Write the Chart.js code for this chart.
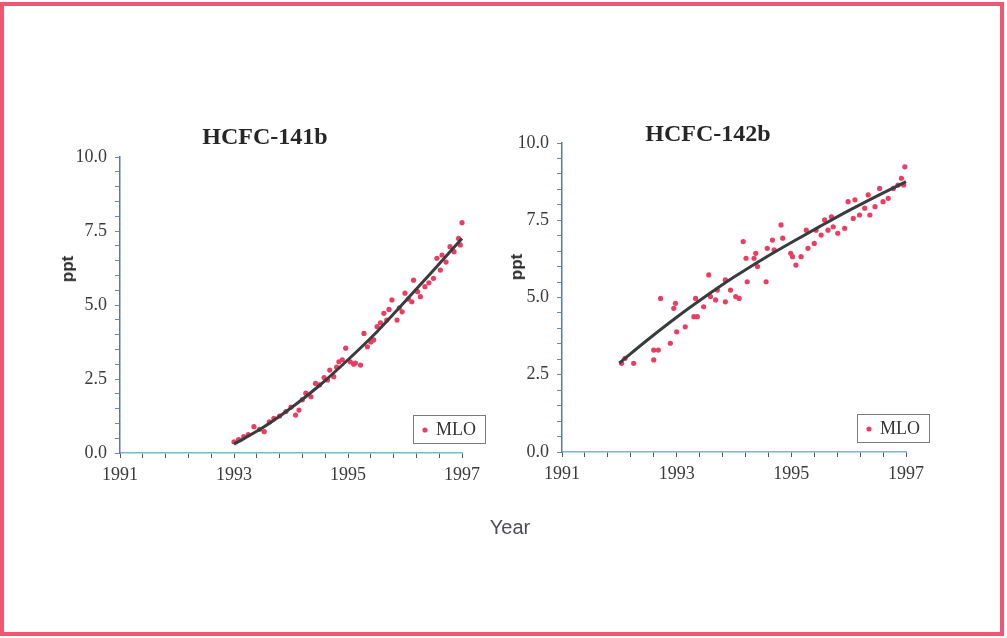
<!DOCTYPE html>
<html>
<head>
<meta charset="utf-8">
<script src="https://cdn.jsdelivr.net/npm/chart.js@4.4.1/dist/chart.umd.min.js"></script>
<style>
  body { margin: 0; background: #fff; }
  #page { position: relative; width: 1007px; height: 638px; overflow: hidden; background: #fff; }
  #frame { position: absolute; left: 0; top: 2px; width: 996px; height: 626px; border: 4px solid #ee5674; }
  canvas { position: absolute; top: 0; }
  #c141 { left: 0; }
  #c142 { left: 503px; }
  .ylab { position: absolute; font: bold 17px "Liberation Sans", Arial, sans-serif; color: #2a2a2a;
          transform: translate(-50%, -50%) rotate(-90deg); }
  #xlab { position: absolute; left: 510px; top: 527px; transform: translate(-50%, -50%);
          font: 20px "Liberation Sans", Arial, sans-serif; color: #4d4d55; }
</style>
</head>
<body>
<div id="page">
  <div id="frame"></div>
  <canvas id="c141" width="503" height="638"></canvas>
  <canvas id="c142" width="504" height="638"></canvas>
  <div class="ylab" style="left:68px;top:269px">ppt</div>
  <div class="ylab" style="left:517px;top:267px">ppt</div>
  <div id="xlab">Year</div>
</div>
<script>
// HCFC-141b, MLO flask samples
const mlo141Years = [1993.00, 1993.08, 1993.17, 1993.25, 1993.35, 1993.45, 1993.53, 1993.62, 1993.70, 1993.80,
  1993.91, 1994.00, 1994.08, 1994.14, 1994.20, 1994.26, 1994.35, 1994.43, 1994.50, 1994.58,
  1994.64, 1994.68, 1994.75, 1994.80, 1994.84, 1994.90, 1994.96, 1995.04, 1995.10, 1995.13,
  1995.22, 1995.28, 1995.34, 1995.40, 1995.45, 1995.51, 1995.57, 1995.63, 1995.68, 1995.72,
  1995.77, 1995.86, 1995.90, 1995.95, 1996.00, 1996.06, 1996.12, 1996.15, 1996.22, 1996.27,
  1996.35, 1996.42, 1996.50, 1996.56, 1996.62, 1996.65, 1996.72, 1996.79, 1996.86, 1996.94,
  1996.97, 1997.00];
const mlo141Ppt = [0.38, 0.45, 0.55, 0.62, 0.89, 0.80, 0.72, 1.05, 1.17, 1.25,
  1.40, 1.55, 1.28, 1.45, 1.80, 2.02, 1.90, 2.35, 2.30, 2.55,
  2.47, 2.80, 2.58, 2.90, 3.08, 3.15, 3.54, 3.08, 3.00, 3.04,
  2.97, 4.04, 3.59, 3.75, 3.82, 4.27, 4.40, 4.72, 4.49, 4.85,
  5.17, 4.49, 4.90, 4.77, 5.40, 5.20, 5.11, 5.84, 5.45, 5.28,
  5.62, 5.75, 5.90, 6.58, 6.18, 6.69, 6.45, 6.97, 6.80, 7.25,
  7.03, 7.78];
// fitted curve
const fit141Years = [1993.0, 1993.5, 1994.0, 1994.5, 1995.0, 1995.5, 1996.0, 1996.5, 1997.0];
const fit141Ppt = [0.30, 0.85, 1.52, 2.28, 3.15, 4.08, 5.12, 6.17, 7.25];

// HCFC-142b, MLO flask samples
const mlo142Years = [1992.04, 1992.10, 1992.25, 1992.60, 1992.60, 1992.68, 1992.72, 1992.89, 1992.95, 1992.98,
  1993.00, 1993.15, 1993.30, 1993.33, 1993.36, 1993.47, 1993.56, 1993.59, 1993.68, 1993.71,
  1993.85, 1993.85, 1993.94, 1994.03, 1994.09, 1994.16, 1994.21, 1994.23, 1994.35, 1994.38,
  1994.41, 1994.56, 1994.58, 1994.67, 1994.70, 1994.82, 1994.85, 1994.99, 1995.02, 1995.08,
  1995.17, 1995.26, 1995.29, 1995.40, 1995.43, 1995.52, 1995.58, 1995.64, 1995.70, 1995.73,
  1995.81, 1995.93, 1995.99, 1996.08, 1996.11, 1996.19, 1996.28, 1996.34, 1996.37, 1996.46,
  1996.54, 1996.60, 1996.69, 1996.78, 1996.86, 1996.92, 1996.96, 1996.98];
const mlo142Ppt = [2.87, 3.03, 2.87, 2.98, 3.30, 3.30, 4.97, 3.52, 4.65, 4.81,
  3.89, 4.05, 4.38, 4.97, 4.38, 4.70, 5.73, 5.03, 4.92, 5.24,
  5.57, 4.86, 5.24, 5.03, 4.97, 6.81, 6.27, 5.51, 6.27, 6.43,
  6.00, 5.51, 6.59, 6.86, 6.54, 7.35, 6.92, 6.43, 6.32, 6.05,
  6.32, 7.18, 6.59, 6.75, 7.18, 7.02, 7.51, 7.18, 7.61, 7.29,
  7.08, 7.24, 8.10, 7.56, 8.16, 7.67, 7.89, 8.32, 7.67, 7.94,
  8.53, 8.10, 8.21, 8.53, 8.64, 8.86, 8.64, 9.23];
const fit142Years = [1992.0, 1992.5, 1993.0, 1993.5, 1994.0, 1994.5, 1995.0, 1995.5, 1996.0, 1996.5, 1997.0];
const fit142Ppt = [2.88, 3.64, 4.36, 5.03, 5.66, 6.24, 6.78, 7.30, 7.81, 8.29, 8.75];

const yearTicks = ['1991', '1993', '1995', '1997'];
const pptTicks = ['0.0', '2.5', '5.0', '7.5', '10.0'];

const toPoints = (xs, ys) => xs.map((x, i) => ({ x: x, y: ys[i] }));

// titles and the little boxed legend are drawn by hand
const decor = {
  id: 'decor',
  afterDraw(chart, args, opts) {
    const ctx = chart.ctx;
    const a = chart.chartArea;
    ctx.save();
    ctx.fillStyle = '#262626';
    ctx.font = 'bold 24px "Liberation Serif"';
    ctx.textAlign = 'center';
    ctx.textBaseline = 'middle';
    ctx.fillText(opts.title, opts.titleX, opts.titleY);

    const bx = a.right - 49, by = a.bottom - 38;
    ctx.strokeStyle = '#7a7a7a';
    ctx.lineWidth = 1;
    ctx.strokeRect(bx + 0.5, by + 0.5, 72, 28);
    ctx.fillStyle = '#ea3d63';
    ctx.beginPath();
    ctx.arc(bx + 12, by + 15, 2.6, 0, Math.PI * 2);
    ctx.fill();
    ctx.fillStyle = '#333';
    ctx.font = '18px "Liberation Serif"';
    ctx.textAlign = 'left';
    ctx.fillText(chart.data.datasets[1].label, bx + 23, by + 15);
    ctx.restore();
  }
};

function makeChart(id, mlo, fit, opt) {
  const ctx = document.getElementById(id).getContext('2d');
  return new Chart(ctx, {
    type: 'scatter',
    data: {
      datasets: [{
        label: 'fit',
        data: fit,
        showLine: true,
        borderColor: '#373c3c',
        borderWidth: 3,
        pointRadius: 0,
        cubicInterpolationMode: 'monotone',
        clip: false,
        order: 0
      }, {
        label: 'MLO',
        data: mlo,
        backgroundColor: '#ea3d63',
        borderWidth: 0,
        pointRadius: 2.6,
        clip: false,
        order: 1
      }]
    },
    options: {
      responsive: false,
      animation: false,
      layout: { padding: opt.padding },
      plugins: {
        legend: { display: false },
        tooltip: { enabled: false },
        decor: { title: opt.title, titleX: opt.titleX, titleY: opt.titleY }
      },
      scales: {
        x: {
          type: 'linear',
          min: 1991,
          max: 1997,
          afterFit: s => { s.height = 40; },
          ticks: {
            stepSize: 0.4,
            autoSkip: false,
            maxRotation: 0,
            padding: 6,
            color: '#3a3a3a',
            font: { family: '"Liberation Serif"', size: 18 },
            callback: v => {
              const lbl = String(Math.round(v));
              return Math.abs(v - Math.round(v)) < 0.01 && yearTicks.includes(lbl) ? lbl : '';
            }
          },
          grid: { drawOnChartArea: false, tickLength: 5, color: '#555' },
          border: { color: '#7fb4c6', width: 1.5, dash: [4, 3] }
        },
        y: {
          min: 0,
          max: 10,
          afterFit: s => { s.width = opt.yWidth; },
          ticks: {
            stepSize: 0.5,
            autoSkip: false,
            padding: 8,
            color: '#3a3a3a',
            font: { family: '"Liberation Serif"', size: 18 },
            callback: v => {
              const lbl = v.toFixed(1);
              return pptTicks.includes(lbl) ? lbl : '';
            }
          },
          grid: { drawOnChartArea: false, tickLength: 5, color: '#6a88b0' },
          border: { color: '#5a78a8', width: 1.5 }
        }
      }
    },
    plugins: [decor]
  });
}

makeChart('c141', toPoints(mlo141Years, mlo141Ppt), toPoints(fit141Years, fit141Ppt), {
  padding: { left: 60, right: 41, top: 157, bottom: 145 },
  yWidth: 60,
  title: 'HCFC-141b', titleX: 265, titleY: 138
});
makeChart('c142', toPoints(mlo142Years, mlo142Ppt), toPoints(fit142Years, fit142Ppt), {
  padding: { left: 9, right: 101, top: 143, bottom: 146 },
  yWidth: 50,
  title: 'HCFC-142b', titleX: 205, titleY: 135
});
</script>
</body>
</html>
